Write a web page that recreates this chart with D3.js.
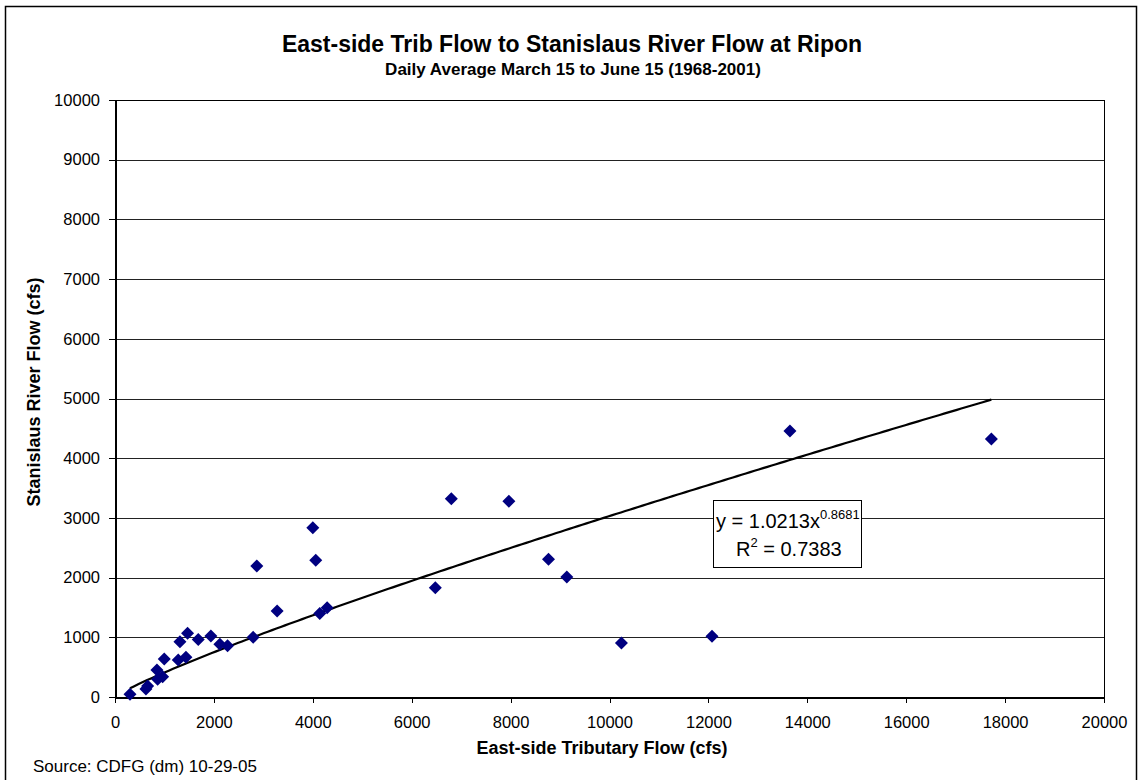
<!DOCTYPE html>
<html>
<head>
<meta charset="utf-8">
<script src="https://cdn.jsdelivr.net/npm/d3@7"></script>
<style>
  body { margin: 0; background: #fff; }
  svg text { font-family: Arial, "Liberation Sans", Helvetica, sans-serif; }
</style>
</head>
<body>
<svg id="chart" width="1138" height="780"></svg>
<script>
// East-side tributary flow (cfs) vs Stanislaus River flow at Ripon (cfs)
var tribFlow = [303, 626, 660, 862, 963, 848, 996, 1279, 1434, 1313, 1468, 1683, 1939, 2121, 2276,
    2794, 2868, 3279, 4000, 4060, 4141, 4290, 6478, 6801, 7965, 8767, 9137, 10241, 12073, 13649, 17722];
var riverFlow = [45, 134, 184, 296, 340, 452, 636, 620, 665, 926, 1067, 965, 1022, 882, 860,
    1000, 2194, 1440, 2836, 2290, 1400, 1496, 1831, 3322, 3278, 2306, 2010, 905, 1017, 4455, 4321];
var xTicks = [0, 2000, 4000, 6000, 8000, 10000, 12000, 14000, 16000, 18000, 20000];
var yTicks = [0, 1000, 2000, 3000, 4000, 5000, 6000, 7000, 8000, 9000, 10000];
// power trendline shown on the chart: y = a * x^b
var fitA = 1.0213, fitB = 0.8681, fitR2 = 0.7383;

var svg = d3.select('#chart');
var plot = { left: 115, top: 100, right: 1104, bottom: 697 };

// outer chart border
svg.append('rect')
    .attr('x', 5.5).attr('y', 6.5)
    .attr('width', 1131).attr('height', 790)
    .style('fill', 'none').style('stroke', '#000').style('stroke-width', 1.5);

var x = d3.scaleLinear().domain([0, 20000]).range([plot.left, plot.right]);
var y = d3.scaleLinear().domain([0, 10000]).range([plot.bottom, plot.top]);

// gridlines
svg.append('g').selectAll('line')
    .data(yTicks.slice(1)).enter().append('line')
    .attr('x1', plot.left).attr('x2', plot.right)
    .attr('y1', function(d) { return Math.round(y(d)) + 0.5; })
    .attr('y2', function(d) { return Math.round(y(d)) + 0.5; })
    .style('stroke', '#222').style('stroke-width', 1);

// plot frame
svg.append('rect')
    .attr('x', plot.left + 0.5).attr('y', plot.top + 0.5)
    .attr('width', plot.right - plot.left).attr('height', plot.bottom - plot.top)
    .style('fill', 'none').style('stroke', '#000').style('stroke-width', 1);

var xAxis = d3.axisBottom(x).tickValues(xTicks).tickFormat(d3.format('d'))
    .tickSizeInner(6).tickSizeOuter(0).tickPadding(13);
var yAxis = d3.axisLeft(y).tickValues(yTicks).tickFormat(d3.format('d'))
    .tickSizeInner(6).tickSizeOuter(0).tickPadding(9);

svg.append('g').attr('class', 'axis')
    .attr('transform', 'translate(0,' + plot.bottom + ')')
    .call(xAxis);
svg.append('g').attr('class', 'axis')
    .attr('transform', 'translate(' + plot.left + ',0)')
    .call(yAxis);

svg.selectAll('.axis path.domain')
    .style('stroke', '#000').style('stroke-width', 2).style('shape-rendering', 'crispEdges');
svg.selectAll('.axis line')
    .style('stroke', '#000').style('shape-rendering', 'crispEdges');
svg.selectAll('.axis text')
    .style('font-size', '16.5px').style('fill', '#000')
    .style('font-family', 'Arial, "Liberation Sans", sans-serif');

// trendline
var xs = d3.extent(tribFlow);
var fitPts = d3.range(0, 201).map(function(i) {
    var xv = xs[0] + (xs[1] - xs[0]) * i / 200;
    return [xv, fitA * Math.pow(xv, fitB)];
});
svg.append('path')
    .datum(fitPts)
    .attr('d', d3.line().x(function(d) { return x(d[0]); }).y(function(d) { return y(d[1]); }))
    .style('fill', 'none').style('stroke', '#000').style('stroke-width', 2.2);

// data points (navy diamonds)
var pts = tribFlow.map(function(v, i) { return [v, riverFlow[i]]; });
svg.append('g').selectAll('path')
    .data(pts).enter().append('path')
    .attr('transform', function(d) { return 'translate(' + x(d[0]) + ',' + y(d[1]) + ')'; })
    .attr('d', 'M0,-6.5L6.5,0L0,6.5L-6.5,0Z')
    .style('fill', '#000080');

// equation label
var eq = svg.append('g').attr('transform', 'translate(713,500)');
eq.append('rect')
    .attr('x', 0.5).attr('y', 0.5).attr('width', 148).attr('height', 67)
    .style('fill', '#fff').style('stroke', '#000').style('stroke-width', 1);
var l1 = eq.append('text').attr('x', 3).attr('y', 28).style('font-size', '20px');
l1.append('tspan').text('y = ' + fitA + 'x');
l1.append('tspan').attr('dy', -9.5).style('font-size', '13px').text(fitB);
var l2 = eq.append('text').attr('x', 23).attr('y', 56).style('font-size', '20px');
l2.append('tspan').text('R');
l2.append('tspan').attr('dy', -9.5).style('font-size', '13px').text('2');
l2.append('tspan').attr('dy', 9.5).text(' = ' + fitR2);

// titles
svg.append('text')
    .attr('x', 572).attr('y', 52).attr('text-anchor', 'middle')
    .style('font-size', '23px').style('font-weight', 'bold')
    .text('East-side Trib Flow to Stanislaus River Flow at Ripon');
svg.append('text')
    .attr('x', 573).attr('y', 75).attr('text-anchor', 'middle')
    .style('font-size', '17px').style('font-weight', 'bold')
    .text('Daily Average March 15 to June 15 (1968-2001)');

svg.append('text')
    .attr('x', 602).attr('y', 754).attr('text-anchor', 'middle')
    .style('font-size', '18px').style('font-weight', 'bold')
    .text('East-side Tributary Flow (cfs)');
svg.append('text')
    .attr('transform', 'translate(40,392) rotate(-90)')
    .attr('text-anchor', 'middle')
    .style('font-size', '18px').style('font-weight', 'bold')
    .text('Stanislaus River Flow (cfs)');

svg.append('text')
    .attr('x', 33).attr('y', 772)
    .style('font-size', '17px')
    .text('Source: CDFG (dm) 10-29-05');
</script>
</body>
</html>
